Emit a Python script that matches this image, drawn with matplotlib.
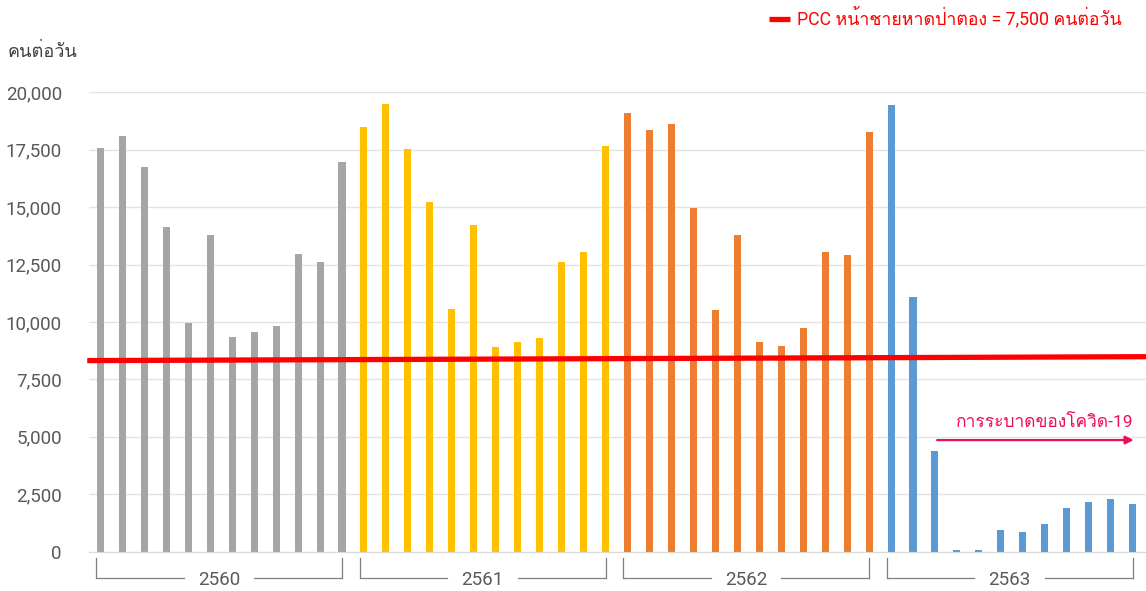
import matplotlib.pyplot as plt
from matplotlib import font_manager
from matplotlib.ft2font import FT2Font

# visitors per day at Patong beach, monthly, 4 Thai years
years = ["2560", "2561", "2562", "2563"]
visitors_2560 = [17570, 18090, 16760, 14140, 9960, 13780, 9330, 9570, 9830, 12970, 12620, 16970]
visitors_2561 = [18490, 19490, 17530, 15210, 10580, 14220, 8910, 9130, 9290, 12600, 13050, 17660]
visitors_2562 = [19090, 18370, 18610, 14980, 10520, 13770, 9140, 8970, 9740, 13050, 12900, 18270]
visitors_2563 = [19430, 11100, 4400, 70, 70, 930, 870, 1190, 1900, 2160, 2290, 2080]
year_colors = ["#A5A5A5", "#FFC000", "#ED7D31", "#5B9BD5"]

# carrying capacity line (start / end value)
pcc_start = 8320
pcc_end = 8490
pcc_label = "PCC หน้าชายหาดป่าตอง = 7,500 คนต่อวัน"
covid_label = "การระบาดของโควิด-19"


def find_thai_font():
    # pick any installed font that has Thai glyphs
    for f in font_manager.fontManager.ttflist:
        try:
            if FT2Font(f.fname).get_char_index(ord("ก")):
                return f.name
        except Exception:
            pass
    return "DejaVu Sans"


thai_font = find_thai_font()
plt.rcParams["font.family"] = ["Roboto", thai_font, "DejaVu Sans"]

fig = plt.figure(figsize=(11.46, 5.91), dpi=100)
ax = fig.add_axes([89 / 1146, 1 - 551.7 / 591, 1 - 89 / 1146, 459.4 / 591])

all_years = [visitors_2560, visitors_2561, visitors_2562, visitors_2563]
for i, (vals, color) in enumerate(zip(all_years, year_colors)):
    xs = [i * 12 + k for k in range(len(vals))]
    ax.bar(xs, vals, width=0.32, color=color, zorder=2)

ax.set_xlim(-0.52, 47.61)
ax.set_ylim(0, 20000)
ax.set_yticks(range(0, 20001, 2500))
ax.set_yticklabels([f"{v:,}" for v in range(0, 20001, 2500)])
ax.tick_params(axis="y", length=0, pad=19.5, labelsize=13.5, labelcolor="#595959")
ax.set_xticks([])
ax.grid(axis="y", color="#E3E3E3", linewidth=1, zorder=0)
for side in ["top", "right", "left"]:
    ax.spines[side].set_visible(False)
ax.spines["bottom"].set_color("#D9D9D9")

pcc, = ax.plot([-0.6, 47.61], [pcc_start, pcc_end], color="#FF0000", linewidth=3.8,
               solid_capstyle="butt", zorder=3, clip_on=False)

# year brackets under the x axis
trans = ax.get_xaxis_transform()
for i, year in enumerate(years):
    x0 = i * 12 - 0.2
    x1 = i * 12 + 11
    xc = (x0 + x1) / 2
    kw = dict(color="#7F7F7F", linewidth=0.9, transform=trans, clip_on=False)
    ax.plot([x0, x0], [-0.013, -0.057], **kw)
    ax.plot([x1, x1], [-0.013, -0.057], **kw)
    ax.plot([x0, xc - 1.6], [-0.057, -0.057], **kw)
    ax.plot([xc + 1.6, x1], [-0.057, -0.057], **kw)
    ax.text(xc, -0.062, year, transform=trans, ha="center", va="center",
            fontsize=13.5, color="#595959")

# covid annotation
ax.annotate("", xy=(47.05, 4860), xytext=(38.1, 4860),
            arrowprops=dict(arrowstyle="-|>", color="#EB0E5C", lw=1.6,
                            mutation_scale=12, shrinkA=0, shrinkB=0))
ax.text(43.0, 5650, covid_label, ha="center", va="center", fontsize=12.5, color="#EB0E5C")

fig.text(8 / 1146, 1 - 52 / 591, "คนต่อวัน", ha="left", va="center", fontsize=13, color="#404040")

fig.legend([pcc], [pcc_label], loc="center right", bbox_to_anchor=(1122 / 1146, 1 - 18 / 591),
           frameon=False, fontsize=12.8, labelcolor="#FF0000", handlelength=1.2,
           handletextpad=0.4, borderaxespad=0, borderpad=0)

fig.savefig("out.png", dpi=100)
